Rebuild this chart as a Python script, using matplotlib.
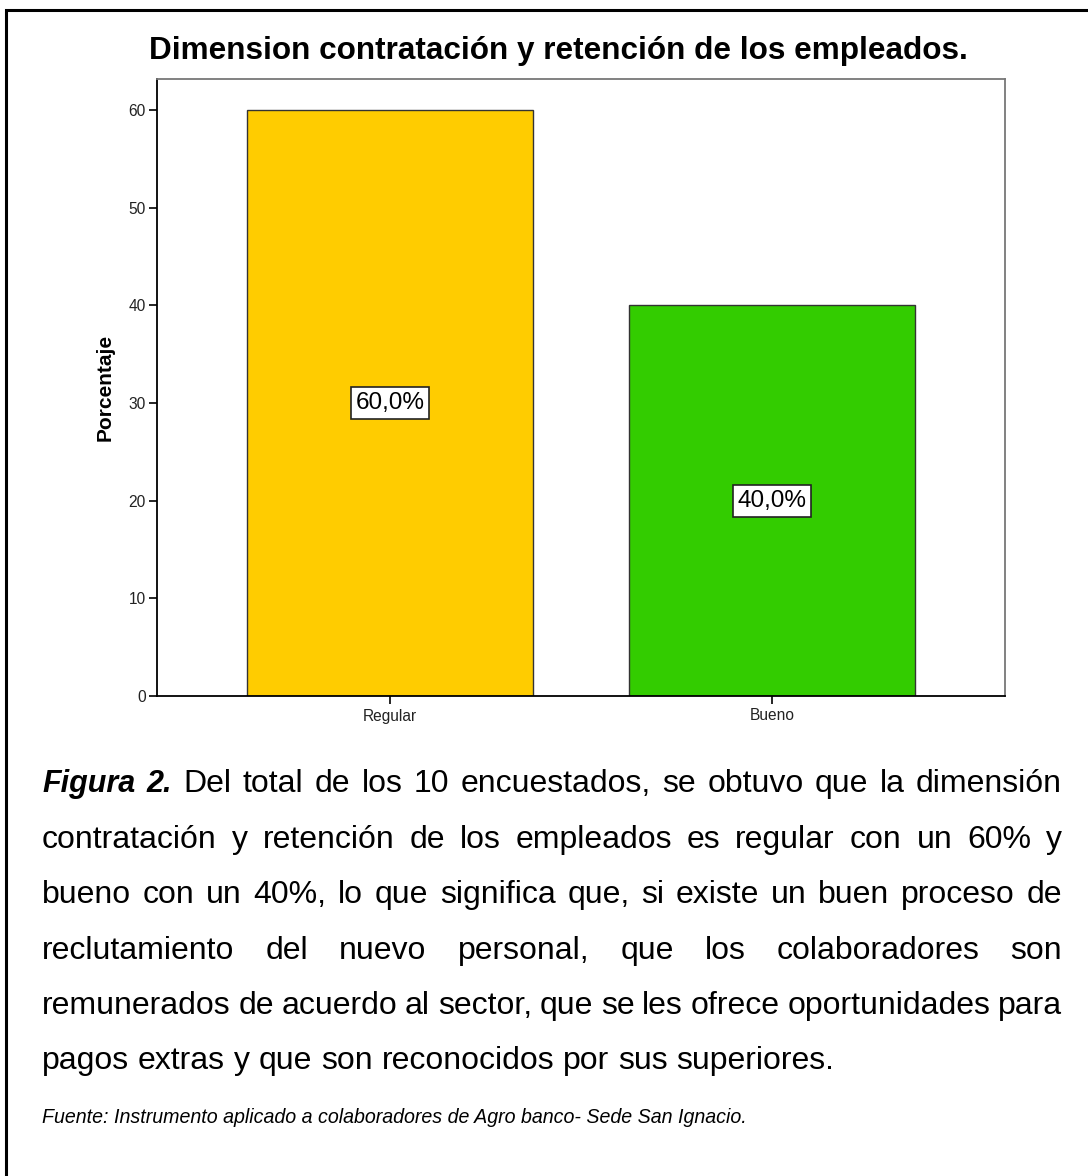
import matplotlib
matplotlib.use("Agg")
import matplotlib.pyplot as plt
from matplotlib.patches import Rectangle

plt.rcParams['font.family'] = ['Liberation Sans', 'DejaVu Sans']

# Data
categories = ["Regular", "Bueno"]
percentages = [60.0, 40.0]
bar_colors = ["#FFCC00", "#33CC00"]
y_ticks = [0, 10, 20, 30, 40, 50, 60]

title = "Dimension contratación y retención de los empleados."
y_label = "Porcentaje"

caption_lines = [
    "Del total de los 10 encuestados, se obtuvo que la dimensión",
    "contratación y retención de los empleados es regular con un 60% y",
    "bueno con un 40%, lo que significa que, si existe un buen proceso de",
    "reclutamiento del nuevo personal, que los colaboradores son",
    "remunerados de acuerdo al sector, que se les ofrece oportunidades para",
    "pagos extras y que son reconocidos por sus superiores.",
]
source_text = "Fuente: Instrumento aplicado a colaboradores de Agro banco- Sede San Ignacio."

W, H = 1088, 1176
fig = plt.figure(figsize=(W / 100, H / 100), dpi=100)
fig.patch.set_facecolor("white")

# outer frame (left and top edges visible)
fig.add_artist(Rectangle((6 / W, -0.05), 1.2, 1 - 10 / H + 0.05, transform=fig.transFigure,
                         fill=False, edgecolor="black", linewidth=2.2))

# chart area
ax_l, ax_r, ax_t, ax_b = 157, 1005, 79, 696
ax = fig.add_axes([ax_l / W, 1 - ax_b / H, (ax_r - ax_l) / W, (ax_b - ax_t) / H])
x = list(range(len(categories)))
bars = ax.bar(x, percentages, width=0.75, color=bar_colors, edgecolor="#333333", linewidth=1.0)
ax.set_xlim(-0.61, 1.61)
ax.set_ylim(0, 63.2)
ax.set_yticks(y_ticks)
ax.set_xticks(x)
ax.set_xticklabels(categories)
ax.tick_params(axis="both", direction="out", length=6, width=1.2, labelsize=11.2,
               colors="black", labelcolor="#222222")
ax.tick_params(axis="y", pad=2)
ax.tick_params(axis="x", pad=3)
for side in ["left", "bottom"]:
    ax.spines[side].set_color("black")
    ax.spines[side].set_linewidth(1.3)
for side in ["top", "right"]:
    ax.spines[side].set_color("#777777")
    ax.spines[side].set_linewidth(1.3)
ax.set_ylabel(y_label, fontsize=15, fontweight="bold", labelpad=10)

for xi, val in zip(x, percentages):
    ax.text(xi, val / 2, f"{val:.1f}%".replace(".", ","), ha="center", va="center",
            fontsize=17.5, color="black",
            bbox=dict(boxstyle="square,pad=0.2", facecolor="white", edgecolor="#222222",
                      linewidth=1.2))

fig.text(558 / W, 1 - 51 / H, title, ha="center", va="center", fontsize=22.7, fontweight="bold")

# justified caption paragraph
renderer = fig.canvas.get_renderer()


def word_width(word, **kw):
    t = fig.text(0, 0, word, **kw)
    w = t.get_window_extent(renderer).width
    t.remove()
    return w


def draw_line(tokens, left, right, baseline, justify=True):
    widths = [word_width(w, **kw) for w, kw in tokens]
    if justify and len(tokens) > 1:
        gap = (right - left - sum(widths)) / (len(tokens) - 1)
    else:
        gap = word_width("a b", **tokens[0][1]) - word_width("ab", **tokens[0][1])
    xpos = left
    for (w, kw), wd in zip(tokens, widths):
        fig.text(xpos / W, 1 - baseline / H, w, ha="left", va="baseline", **kw)
        xpos += wd + gap


body = dict(fontsize=23, color="black")
lead = dict(fontsize=22, color="black", fontweight="bold", fontstyle="italic")
left, right = 42, 1062
baselines = [792, 848, 903, 959, 1014, 1069]
for i, line in enumerate(caption_lines):
    tokens = [(w, body) for w in line.split()]
    if i == 0:
        tokens = [("Figura", lead), ("2.", lead)] + tokens
    draw_line(tokens, left, right, baselines[i], justify=(i < len(caption_lines) - 1))

fig.text(42 / W, 1 - 1123 / H, source_text, ha="left", va="baseline", fontsize=14.1,
         fontstyle="italic", color="black")

fig.savefig("out.png", dpi=100)
